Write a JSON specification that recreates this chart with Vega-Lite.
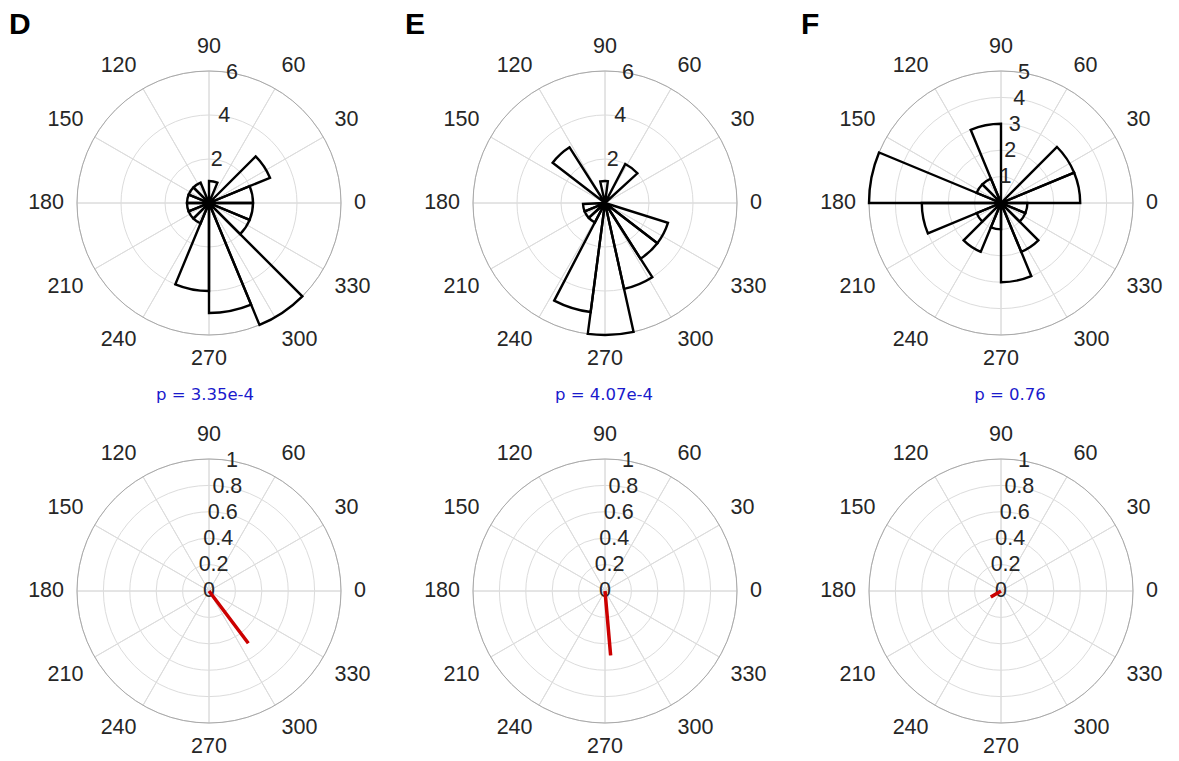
{
  "$schema": "https://vega.github.io/schema/vega-lite/v6.json",
  "background": "white",
  "padding": {"left": 9, "top": 10, "right": 0, "bottom": 0},
  "config": {"view": {"stroke": null}},
  "datasets": {
    "angles": [{"a": 0}, {"a": 30}, {"a": 60}, {"a": 90}, {"a": 120}, {"a": 150}, {"a": 180}, {"a": 210}, {"a": 240}, {"a": 270}, {"a": 300}, {"a": 330}],
    "ringsD": [{"r": 2}, {"r": 4}, {"r": 6}],
    "ringsF": [{"r": 1}, {"r": 2}, {"r": 3}, {"r": 4}, {"r": 5}],
    "ringsC": [{"r": 0}, {"r": 0.2}, {"r": 0.4}, {"r": 0.6}, {"r": 0.8}, {"r": 1}],
    "outerD": [{"r": 6}],
    "outerF": [{"r": 5}],
    "outerC": [{"r": 1}],
    "binsD": [
      {"a0": 0, "a1": 22.5, "n": 2}, {"a0": 22.5, "a1": 45, "n": 3}, {"a0": 67.5, "a1": 90, "n": 1},
      {"a0": 112.5, "a1": 135, "n": 1}, {"a0": 135, "a1": 157.5, "n": 1}, {"a0": 157.5, "a1": 180, "n": 1},
      {"a0": 180, "a1": 202.5, "n": 1}, {"a0": 202.5, "a1": 225, "n": 1}, {"a0": 225, "a1": 247.5, "n": 1},
      {"a0": 247.5, "a1": 270, "n": 4}, {"a0": 270, "a1": 292.5, "n": 5}, {"a0": 292.5, "a1": 315, "n": 6},
      {"a0": 315, "a1": 337.5, "n": 2}, {"a0": 337.5, "a1": 360, "n": 2}
    ],
    "binsE": [
      {"a0": 42.5, "a1": 62.5, "n": 2}, {"a0": 82.5, "a1": 102.5, "n": 1}, {"a0": 122.5, "a1": 142.5, "n": 3},
      {"a0": 182.5, "a1": 202.5, "n": 1}, {"a0": 202.5, "a1": 222.5, "n": 1}, {"a0": 222.5, "a1": 242.5, "n": 1},
      {"a0": 242.5, "a1": 262.5, "n": 5}, {"a0": 262.5, "a1": 282.5, "n": 6}, {"a0": 282.5, "a1": 302.5, "n": 4},
      {"a0": 302.5, "a1": 322.5, "n": 3}, {"a0": 322.5, "a1": 342.5, "n": 3}
    ],
    "binsF": [
      {"a0": 0, "a1": 22.5, "n": 3}, {"a0": 22.5, "a1": 45, "n": 3}, {"a0": 90, "a1": 112.5, "n": 3},
      {"a0": 112.5, "a1": 135, "n": 1}, {"a0": 135, "a1": 157.5, "n": 1}, {"a0": 157.5, "a1": 180, "n": 5},
      {"a0": 180, "a1": 202.5, "n": 3}, {"a0": 202.5, "a1": 225, "n": 1}, {"a0": 225, "a1": 247.5, "n": 2},
      {"a0": 247.5, "a1": 270, "n": 1}, {"a0": 270, "a1": 292.5, "n": 3}, {"a0": 292.5, "a1": 315, "n": 2},
      {"a0": 315, "a1": 337.5, "n": 1}, {"a0": 337.5, "a1": 360, "n": 1}
    ],
    "vecD": [{"a": 307, "r": 0.495}],
    "vecE": [{"a": 275, "r": 0.49}],
    "vecF": [{"a": 211, "r": 0.09}]
  },
  "vconcat": [
    {
      "hconcat": [
        {
          "width": 380, "height": 324,
          "title": {"text": "D", "anchor": "start", "frame": "group", "fontSize": 30, "fontWeight": "bold", "font": "Liberation Sans", "color": "black", "dx": -10, "offset": -4},
          "layer": [
            {"data": {"name": "ringsD"}, "mark": {"type": "arc", "fill": "transparent", "stroke": "#dcdcdc", "strokeWidth": 1},
             "encoding": {"theta": {"datum": 0, "type": "quantitative", "stack": null, "scale": {"domain": [0, 360], "range": [1.5707963268, -4.7123889804], "zero": false, "nice": false}}, "theta2": {"datum": 360},
                          "radius": {"field": "r", "type": "quantitative", "stack": null, "scale": {"type": "linear", "domain": [0, 6], "range": [0, 132], "zero": true, "nice": false}}}},
            {"data": {"name": "angles"}, "mark": {"type": "arc", "fill": "transparent", "stroke": "#dcdcdc", "strokeWidth": 1},
             "encoding": {"theta": {"field": "a", "type": "quantitative", "stack": null}, "theta2": {"field": "a"}, "radius": {"datum": 6, "type": "quantitative", "stack": null}}},
            {"data": {"name": "outerD"}, "mark": {"type": "arc", "fill": "transparent", "stroke": "#a9a9a9", "strokeWidth": 1},
             "encoding": {"theta": {"datum": 0, "type": "quantitative", "stack": null}, "theta2": {"datum": 360}, "radius": {"field": "r", "type": "quantitative", "stack": null}}},
            {"data": {"name": "binsD"}, "mark": {"type": "arc", "fill": "transparent", "stroke": "black", "strokeWidth": 2.4, "strokeJoin": "miter"},
             "encoding": {"theta": {"field": "a0", "type": "quantitative", "stack": null}, "theta2": {"field": "a1"}, "radius": {"field": "n", "type": "quantitative", "stack": null}}},
            {"data": {"name": "angles"}, "mark": {"type": "text", "font": "Liberation Sans", "fontSize": 21.5, "color": "#262626", "radiusOffset": 13,
               "align": {"expr": "datum.a == 90 || datum.a == 270 ? 'center' : (datum.a > 90 && datum.a < 270 ? 'right' : 'left')"},
               "baseline": {"expr": "datum.a == 0 || datum.a == 180 ? 'middle' : (datum.a < 180 ? 'bottom' : 'top')"}},
             "encoding": {"theta": {"field": "a", "type": "quantitative", "stack": null}, "radius": {"datum": 6, "type": "quantitative", "stack": null}, "text": {"field": "a", "type": "nominal"}}},
            {"data": {"name": "ringsD"}, "mark": {"type": "text", "font": "Liberation Sans", "fontSize": 21.5, "color": "#262626", "align": "center", "baseline": "middle"},
             "encoding": {"theta": {"datum": 80, "type": "quantitative", "stack": null}, "radius": {"field": "r", "type": "quantitative", "stack": null}, "text": {"field": "r", "type": "nominal"}}}
          ]
        },
        {
          "width": 380, "height": 324,
          "title": {"text": "E", "anchor": "start", "frame": "group", "fontSize": 30, "fontWeight": "bold", "font": "Liberation Sans", "color": "black", "dx": -10, "offset": -4},
          "layer": [
            {"data": {"name": "ringsD"}, "mark": {"type": "arc", "fill": "transparent", "stroke": "#dcdcdc", "strokeWidth": 1},
             "encoding": {"theta": {"datum": 0, "type": "quantitative", "stack": null, "scale": {"domain": [0, 360], "range": [1.5707963268, -4.7123889804], "zero": false, "nice": false}}, "theta2": {"datum": 360},
                          "radius": {"field": "r", "type": "quantitative", "stack": null, "scale": {"type": "linear", "domain": [0, 6], "range": [0, 132], "zero": true, "nice": false}}}},
            {"data": {"name": "angles"}, "mark": {"type": "arc", "fill": "transparent", "stroke": "#dcdcdc", "strokeWidth": 1},
             "encoding": {"theta": {"field": "a", "type": "quantitative", "stack": null}, "theta2": {"field": "a"}, "radius": {"datum": 6, "type": "quantitative", "stack": null}}},
            {"data": {"name": "outerD"}, "mark": {"type": "arc", "fill": "transparent", "stroke": "#a9a9a9", "strokeWidth": 1},
             "encoding": {"theta": {"datum": 0, "type": "quantitative", "stack": null}, "theta2": {"datum": 360}, "radius": {"field": "r", "type": "quantitative", "stack": null}}},
            {"data": {"name": "binsE"}, "mark": {"type": "arc", "fill": "transparent", "stroke": "black", "strokeWidth": 2.4, "strokeJoin": "miter"},
             "encoding": {"theta": {"field": "a0", "type": "quantitative", "stack": null}, "theta2": {"field": "a1"}, "radius": {"field": "n", "type": "quantitative", "stack": null}}},
            {"data": {"name": "angles"}, "mark": {"type": "text", "font": "Liberation Sans", "fontSize": 21.5, "color": "#262626", "radiusOffset": 13,
               "align": {"expr": "datum.a == 90 || datum.a == 270 ? 'center' : (datum.a > 90 && datum.a < 270 ? 'right' : 'left')"},
               "baseline": {"expr": "datum.a == 0 || datum.a == 180 ? 'middle' : (datum.a < 180 ? 'bottom' : 'top')"}},
             "encoding": {"theta": {"field": "a", "type": "quantitative", "stack": null}, "radius": {"datum": 6, "type": "quantitative", "stack": null}, "text": {"field": "a", "type": "nominal"}}},
            {"data": {"name": "ringsD"}, "mark": {"type": "text", "font": "Liberation Sans", "fontSize": 21.5, "color": "#262626", "align": "center", "baseline": "middle"},
             "encoding": {"theta": {"datum": 80, "type": "quantitative", "stack": null}, "radius": {"field": "r", "type": "quantitative", "stack": null}, "text": {"field": "r", "type": "nominal"}}}
          ]
        },
        {
          "width": 380, "height": 324,
          "title": {"text": "F", "anchor": "start", "frame": "group", "fontSize": 30, "fontWeight": "bold", "font": "Liberation Sans", "color": "black", "dx": -10, "offset": -4},
          "layer": [
            {"data": {"name": "ringsF"}, "mark": {"type": "arc", "fill": "transparent", "stroke": "#dcdcdc", "strokeWidth": 1},
             "encoding": {"theta": {"datum": 0, "type": "quantitative", "stack": null, "scale": {"domain": [0, 360], "range": [1.5707963268, -4.7123889804], "zero": false, "nice": false}}, "theta2": {"datum": 360},
                          "radius": {"field": "r", "type": "quantitative", "stack": null, "scale": {"type": "linear", "domain": [0, 5], "range": [0, 132], "zero": true, "nice": false}}}},
            {"data": {"name": "angles"}, "mark": {"type": "arc", "fill": "transparent", "stroke": "#dcdcdc", "strokeWidth": 1},
             "encoding": {"theta": {"field": "a", "type": "quantitative", "stack": null}, "theta2": {"field": "a"}, "radius": {"datum": 5, "type": "quantitative", "stack": null}}},
            {"data": {"name": "outerF"}, "mark": {"type": "arc", "fill": "transparent", "stroke": "#a9a9a9", "strokeWidth": 1},
             "encoding": {"theta": {"datum": 0, "type": "quantitative", "stack": null}, "theta2": {"datum": 360}, "radius": {"field": "r", "type": "quantitative", "stack": null}}},
            {"data": {"name": "binsF"}, "mark": {"type": "arc", "fill": "transparent", "stroke": "black", "strokeWidth": 2.4, "strokeJoin": "miter"},
             "encoding": {"theta": {"field": "a0", "type": "quantitative", "stack": null}, "theta2": {"field": "a1"}, "radius": {"field": "n", "type": "quantitative", "stack": null}}},
            {"data": {"name": "angles"}, "mark": {"type": "text", "font": "Liberation Sans", "fontSize": 21.5, "color": "#262626", "radiusOffset": 13,
               "align": {"expr": "datum.a == 90 || datum.a == 270 ? 'center' : (datum.a > 90 && datum.a < 270 ? 'right' : 'left')"},
               "baseline": {"expr": "datum.a == 0 || datum.a == 180 ? 'middle' : (datum.a < 180 ? 'bottom' : 'top')"}},
             "encoding": {"theta": {"field": "a", "type": "quantitative", "stack": null}, "radius": {"datum": 5, "type": "quantitative", "stack": null}, "text": {"field": "a", "type": "nominal"}}},
            {"data": {"name": "ringsF"}, "mark": {"type": "text", "font": "Liberation Sans", "fontSize": 21.5, "color": "#262626", "align": "center", "baseline": "middle"},
             "encoding": {"theta": {"datum": 80, "type": "quantitative", "stack": null}, "radius": {"field": "r", "type": "quantitative", "stack": null}, "text": {"field": "r", "type": "nominal"}}}
          ]
        }
      ],
      "spacing": 6
    },
    {
      "hconcat": [
        {
          "width": 380, "height": 324,
          "title": {"text": "p = 3.35e-4", "anchor": "middle", "frame": "group", "fontSize": 16.5, "fontWeight": "normal", "font": "DejaVu Sans", "color": "#1a1acc", "dx": -4, "offset": 20.5},
          "layer": [
            {"data": {"name": "ringsC"}, "mark": {"type": "arc", "fill": "transparent", "stroke": "#dcdcdc", "strokeWidth": 1},
             "encoding": {"theta": {"datum": 0, "type": "quantitative", "stack": null, "scale": {"domain": [0, 360], "range": [1.5707963268, -4.7123889804], "zero": false, "nice": false}}, "theta2": {"datum": 360},
                          "radius": {"field": "r", "type": "quantitative", "stack": null, "scale": {"type": "linear", "domain": [0, 1], "range": [0, 132], "zero": true, "nice": false}}}},
            {"data": {"name": "angles"}, "mark": {"type": "arc", "fill": "transparent", "stroke": "#dcdcdc", "strokeWidth": 1},
             "encoding": {"theta": {"field": "a", "type": "quantitative", "stack": null}, "theta2": {"field": "a"}, "radius": {"datum": 1, "type": "quantitative", "stack": null}}},
            {"data": {"name": "outerC"}, "mark": {"type": "arc", "fill": "transparent", "stroke": "#a9a9a9", "strokeWidth": 1},
             "encoding": {"theta": {"datum": 0, "type": "quantitative", "stack": null}, "theta2": {"datum": 360}, "radius": {"field": "r", "type": "quantitative", "stack": null}}},
            {"data": {"name": "angles"}, "mark": {"type": "text", "font": "Liberation Sans", "fontSize": 21.5, "color": "#262626", "radiusOffset": 13,
               "align": {"expr": "datum.a == 90 || datum.a == 270 ? 'center' : (datum.a > 90 && datum.a < 270 ? 'right' : 'left')"},
               "baseline": {"expr": "datum.a == 0 || datum.a == 180 ? 'middle' : (datum.a < 180 ? 'bottom' : 'top')"}},
             "encoding": {"theta": {"field": "a", "type": "quantitative", "stack": null}, "radius": {"datum": 1, "type": "quantitative", "stack": null}, "text": {"field": "a", "type": "nominal"}}},
            {"data": {"name": "ringsC"}, "mark": {"type": "text", "font": "Liberation Sans", "fontSize": 21.5, "color": "#262626", "align": "center", "baseline": "middle"},
             "encoding": {"theta": {"datum": 80, "type": "quantitative", "stack": null}, "radius": {"field": "r", "type": "quantitative", "stack": null}, "text": {"field": "r", "type": "nominal"}}},
            {"data": {"name": "vecD"}, "mark": {"type": "arc", "fill": "transparent", "stroke": "#cc0000", "strokeWidth": 3.5},
             "encoding": {"theta": {"field": "a", "type": "quantitative", "stack": null}, "theta2": {"field": "a"}, "radius": {"field": "r", "type": "quantitative", "stack": null}}}
          ]
        },
        {
          "width": 380, "height": 324,
          "title": {"text": "p = 4.07e-4", "anchor": "middle", "frame": "group", "fontSize": 16.5, "fontWeight": "normal", "font": "DejaVu Sans", "color": "#1a1acc", "dx": -1, "offset": 20.5},
          "layer": [
            {"data": {"name": "ringsC"}, "mark": {"type": "arc", "fill": "transparent", "stroke": "#dcdcdc", "strokeWidth": 1},
             "encoding": {"theta": {"datum": 0, "type": "quantitative", "stack": null, "scale": {"domain": [0, 360], "range": [1.5707963268, -4.7123889804], "zero": false, "nice": false}}, "theta2": {"datum": 360},
                          "radius": {"field": "r", "type": "quantitative", "stack": null, "scale": {"type": "linear", "domain": [0, 1], "range": [0, 132], "zero": true, "nice": false}}}},
            {"data": {"name": "angles"}, "mark": {"type": "arc", "fill": "transparent", "stroke": "#dcdcdc", "strokeWidth": 1},
             "encoding": {"theta": {"field": "a", "type": "quantitative", "stack": null}, "theta2": {"field": "a"}, "radius": {"datum": 1, "type": "quantitative", "stack": null}}},
            {"data": {"name": "outerC"}, "mark": {"type": "arc", "fill": "transparent", "stroke": "#a9a9a9", "strokeWidth": 1},
             "encoding": {"theta": {"datum": 0, "type": "quantitative", "stack": null}, "theta2": {"datum": 360}, "radius": {"field": "r", "type": "quantitative", "stack": null}}},
            {"data": {"name": "angles"}, "mark": {"type": "text", "font": "Liberation Sans", "fontSize": 21.5, "color": "#262626", "radiusOffset": 13,
               "align": {"expr": "datum.a == 90 || datum.a == 270 ? 'center' : (datum.a > 90 && datum.a < 270 ? 'right' : 'left')"},
               "baseline": {"expr": "datum.a == 0 || datum.a == 180 ? 'middle' : (datum.a < 180 ? 'bottom' : 'top')"}},
             "encoding": {"theta": {"field": "a", "type": "quantitative", "stack": null}, "radius": {"datum": 1, "type": "quantitative", "stack": null}, "text": {"field": "a", "type": "nominal"}}},
            {"data": {"name": "ringsC"}, "mark": {"type": "text", "font": "Liberation Sans", "fontSize": 21.5, "color": "#262626", "align": "center", "baseline": "middle"},
             "encoding": {"theta": {"datum": 80, "type": "quantitative", "stack": null}, "radius": {"field": "r", "type": "quantitative", "stack": null}, "text": {"field": "r", "type": "nominal"}}},
            {"data": {"name": "vecE"}, "mark": {"type": "arc", "fill": "transparent", "stroke": "#cc0000", "strokeWidth": 3.5},
             "encoding": {"theta": {"field": "a", "type": "quantitative", "stack": null}, "theta2": {"field": "a"}, "radius": {"field": "r", "type": "quantitative", "stack": null}}}
          ]
        },
        {
          "width": 380, "height": 324,
          "title": {"text": "p = 0.76", "anchor": "middle", "frame": "group", "fontSize": 16.5, "fontWeight": "normal", "font": "DejaVu Sans", "color": "#1a1acc", "dx": 9, "offset": 20.5},
          "layer": [
            {"data": {"name": "ringsC"}, "mark": {"type": "arc", "fill": "transparent", "stroke": "#dcdcdc", "strokeWidth": 1},
             "encoding": {"theta": {"datum": 0, "type": "quantitative", "stack": null, "scale": {"domain": [0, 360], "range": [1.5707963268, -4.7123889804], "zero": false, "nice": false}}, "theta2": {"datum": 360},
                          "radius": {"field": "r", "type": "quantitative", "stack": null, "scale": {"type": "linear", "domain": [0, 1], "range": [0, 132], "zero": true, "nice": false}}}},
            {"data": {"name": "angles"}, "mark": {"type": "arc", "fill": "transparent", "stroke": "#dcdcdc", "strokeWidth": 1},
             "encoding": {"theta": {"field": "a", "type": "quantitative", "stack": null}, "theta2": {"field": "a"}, "radius": {"datum": 1, "type": "quantitative", "stack": null}}},
            {"data": {"name": "outerC"}, "mark": {"type": "arc", "fill": "transparent", "stroke": "#a9a9a9", "strokeWidth": 1},
             "encoding": {"theta": {"datum": 0, "type": "quantitative", "stack": null}, "theta2": {"datum": 360}, "radius": {"field": "r", "type": "quantitative", "stack": null}}},
            {"data": {"name": "angles"}, "mark": {"type": "text", "font": "Liberation Sans", "fontSize": 21.5, "color": "#262626", "radiusOffset": 13,
               "align": {"expr": "datum.a == 90 || datum.a == 270 ? 'center' : (datum.a > 90 && datum.a < 270 ? 'right' : 'left')"},
               "baseline": {"expr": "datum.a == 0 || datum.a == 180 ? 'middle' : (datum.a < 180 ? 'bottom' : 'top')"}},
             "encoding": {"theta": {"field": "a", "type": "quantitative", "stack": null}, "radius": {"datum": 1, "type": "quantitative", "stack": null}, "text": {"field": "a", "type": "nominal"}}},
            {"data": {"name": "ringsC"}, "mark": {"type": "text", "font": "Liberation Sans", "fontSize": 21.5, "color": "#262626", "align": "center", "baseline": "middle"},
             "encoding": {"theta": {"datum": 80, "type": "quantitative", "stack": null}, "radius": {"field": "r", "type": "quantitative", "stack": null}, "text": {"field": "r", "type": "nominal"}}},
            {"data": {"name": "vecF"}, "mark": {"type": "arc", "fill": "transparent", "stroke": "#cc0000", "strokeWidth": 3.5},
             "encoding": {"theta": {"field": "a", "type": "quantitative", "stack": null}, "theta2": {"field": "a"}, "radius": {"field": "r", "type": "quantitative", "stack": null}}}
          ]
        }
      ],
      "spacing": 16
    }
  ],
  "spacing": 17
}
